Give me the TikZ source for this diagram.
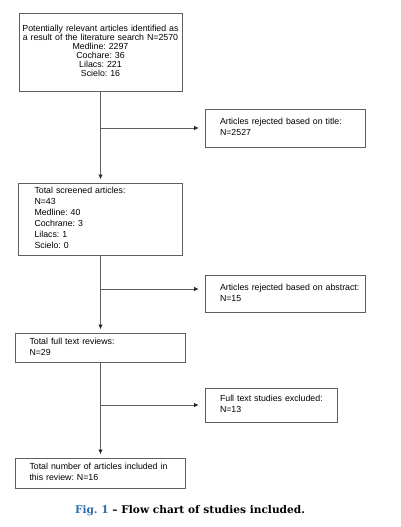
\documentclass[tikz,border=0pt]{standalone}
\usepackage{fontspec}
\setmainfont{Liberation Sans}
\newfontfamily\capfont{DejaVu Serif}
\usetikzlibrary{arrows.meta}
\definecolor{figblue}{RGB}{40,110,175}
\definecolor{ln}{RGB}{95,95,95}
\definecolor{tipc}{RGB}{35,35,35}
\frenchspacing
\newcommand{\lines}[1]{\begin{tabular}{@{}l@{}}#1\end{tabular}}
\newcommand{\clines}[1]{\begin{tabular}{@{}c@{}}#1\end{tabular}}
\begin{document}
\begin{tikzpicture}[x=1pt,y=-1pt,
  box/.style={draw=ln, line width=0.8pt, inner sep=0pt, font=\fontsize{8.8}{11}\selectfont, align=left},
  arr/.style={draw=ln, line width=0.8pt, -{Latex[length=4.5pt,width=4.5pt,color=tipc]}},
  arrv/.style={arr, shorten >=3.5pt},
  arrh/.style={arr, shorten >=6pt}]
\useasboundingbox (0,0) rectangle (400,527);
\node[box, align=center, font=\fontsize{8.8}{8.9}\selectfont, minimum width=163pt, minimum height=78pt, text width=160pt] (b1) at (100.5,52)
  {\clines{Potentially relevant articles identified as\\a result of the literature search N=2570\\Medline: 2297\\Cochare: 36\\Lilacs: 221\\Scielo: 16}\\[5pt]};
\node[box, minimum width=160pt, minimum height=38pt, text width=130pt] (r1) at (285,128)
  {\lines{Articles rejected based on title:\\N=2527}};
\node[box, minimum width=164pt, minimum height=72pt, text width=132pt] (b2) at (100.5,219)
  {\lines{Total screened articles:\\N=43\\Medline: 40\\Cochrane: 3\\Lilacs: 1\\Scielo: 0}};
\node[box, minimum width=160pt, minimum height=37pt, text width=130pt] (r2) at (285,293.5)
  {\lines{Articles rejected based on abstract:\\N=15}\\[6pt]};
\node[box, minimum width=170pt, minimum height=29pt, text width=142pt] (b3) at (100.5,347.5)
  {\lines{Total full text reviews:\\N=29}};
\node[box, minimum width=132pt, minimum height=34pt, text width=102pt] (r3) at (271,405)
  {\lines{Full text studies excluded:\\N=13}};
\node[box, minimum width=170pt, minimum height=30pt, text width=142pt] (b4) at (100.5,473)
  {\lines{Total number of articles included in\\this review: N=16}};
\draw[arrv] (b1.south) -- (b2.north);
\draw[arrv] (b2.south) -- (b3.north);
\draw[arrv] (b3.south) -- (b4.north);
\coordinate (j1) at (b1.south |- r1.west);
\coordinate (j2) at (100.5,289);
\coordinate (j3) at (b3.south |- r3.west);
\draw[arrh] (j1) -- (r1.west);
\draw[arrh] (j2) -- (j2 -| r2.west);
\draw[arrh] (j3) -- (r3.west);
\node[font=\capfont\bfseries\fontsize{10.6}{13}\selectfont, inner sep=0pt] (cap) at (190,511)
  {\textcolor{figblue}{Fig. 1} – Flow chart of studies included.};
\end{tikzpicture}
\end{document}
